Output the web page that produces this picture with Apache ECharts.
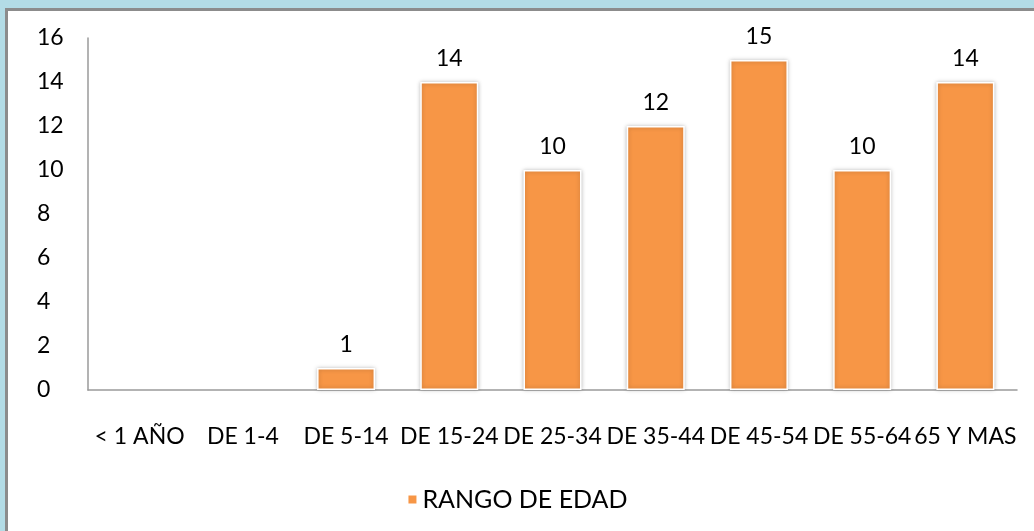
<!DOCTYPE html>
<html><head><meta charset="utf-8">
<script src="https://cdn.jsdelivr.net/npm/echarts@6/dist/echarts.min.js"></script>
<style>
html,body{margin:0;padding:0;background:#b3dce6;overflow:hidden;}
#frame{position:absolute;left:5px;top:8px;width:1040px;height:540px;background:#fff;border-left:3px solid #8c8c8c;border-top:3px solid #8c8c8c;}
#chart{position:absolute;left:0;top:0;width:1034px;height:531px;}
</style></head>
<body>
<div id="frame"></div>
<div id="chart"></div>
<script>
const categories = ["< 1 AÑO","DE 1-4","DE 5-14","DE 15-24","DE 25-34","DE 35-44","DE 45-54","DE 55-64","65 Y MAS"];
const values = [0,0,1,14,10,12,15,10,14];
const seriesName = "RANGO DE EDAD";
const yTicks = [0,2,4,6,8,10,12,14,16];

const chart = echarts.init(document.getElementById('chart'), null, {renderer:'canvas'});
const font = 'Lato, "Open Sans", sans-serif';
const barData = values.map(v => v === 0
  ? {value: v, itemStyle: {borderWidth: 0, shadowBlur: 0, opacity: 0}}
  : v);
chart.setOption({
  backgroundColor: 'transparent',
  animation: false,
  grid: {left: 88, right: 17, top: 38, bottom: 141},
  legend: {
    data: [seriesName], left: 'center', top: 482,
    icon: 'rect', itemWidth: 10, itemHeight: 10, itemGap: 6,
    textStyle: {fontFamily: font, fontSize: 25, color: '#000'}
  },
  xAxis: {
    type: 'category', data: categories,
    axisLine: {lineStyle: {color: '#9a9a9a', width: 1.5}},
    axisTick: {show: false},
    axisLabel: {fontFamily: font, fontSize: 23, color: '#000', margin: 35, interval: 0}
  },
  yAxis: {
    type: 'value', min: yTicks[0], max: yTicks[yTicks.length-1], interval: 2,
    axisLine: {show: true, lineStyle: {color: '#9a9a9a', width: 1.5}},
    axisTick: {show: false},
    splitLine: {show: false},
    axisLabel: {fontFamily: font, fontSize: 23, color: '#000', align: 'left', margin: 51}
  },
  series: [{
    name: seriesName, type: 'bar', data: barData, barWidth: 58,
    itemStyle: {color: '#f79646', borderColor: '#ffffff', borderWidth: 1.5,
      shadowBlur: 4, shadowColor: 'rgba(0,0,0,0.25)', shadowOffsetX: 0, shadowOffsetY: 0},
    label: {show: true, position: 'top', distance: 12, fontFamily: font, fontSize: 23, color: '#000',
      formatter: p => p.value > 0 ? String(p.value) : ''}
  }]
});
</script>
</body></html>
